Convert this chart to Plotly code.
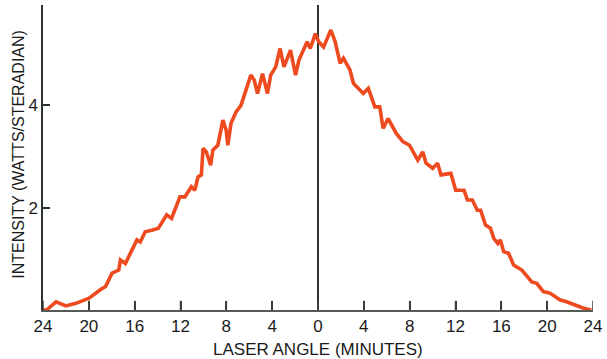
import plotly.graph_objects as go

# Laser angle in minutes (negative = left of centre), intensity in W/sr
angle = [-24.0, -23.7, -22.86, -22.0, -21.13, -19.98, -18.97, -18.54, -17.97, -17.39,
         -17.24, -16.81, -16.24, -15.80, -15.51, -15.08, -14.51, -13.93, -13.21, -12.78,
         -12.05, -11.62, -11.05, -10.75, -10.47, -10.18, -10.03, -9.75, -9.37, -9.17,
         -8.74, -8.30, -8.02, -7.87, -7.59, -7.15, -6.72, -6.29, -5.86, -5.56,
         -5.28, -4.84, -4.41, -4.13, -3.69, -3.31, -2.97, -2.40, -1.96, -1.67,
         -0.95, -0.67, -0.23, 0.06, 0.49, 1.12, 1.50, 1.93, 2.22, 2.79,
         3.09, 3.95, 4.39, 4.96, 5.39, 5.68, 6.12, 6.83, 7.41, 7.98,
         8.71, 9.14, 9.43, 10.01, 10.44, 10.73, 11.59, 12.02, 12.74, 13.04,
         13.47, 13.90, 14.19, 14.62, 15.05, 15.34, 15.70, 15.92, 16.20, 16.63,
         17.07, 17.79, 18.66, 19.09, 19.66, 20.24, 21.11, 21.69, 22.55, 23.12, 23.85]
intensity = [0.0, 0.0, 0.16, 0.08, 0.13, 0.23, 0.40, 0.46, 0.72, 0.78,
             0.98, 0.91, 1.17, 1.37, 1.33, 1.53, 1.56, 1.60, 1.86, 1.79,
             2.21, 2.21, 2.41, 2.34, 2.60, 2.64, 3.16, 3.09, 2.83, 3.13,
             3.22, 3.71, 3.52, 3.22, 3.65, 3.87, 4.00, 4.30, 4.59, 4.49,
             4.23, 4.62, 4.23, 4.59, 4.75, 5.11, 4.75, 5.08, 4.59, 4.88,
             5.24, 5.11, 5.40, 5.24, 5.14, 5.47, 5.24, 4.82, 4.92, 4.69,
             4.43, 4.23, 4.33, 3.97, 3.97, 3.55, 3.74, 3.45, 3.29, 3.22,
             2.93, 3.09, 2.87, 2.77, 2.87, 2.64, 2.67, 2.34, 2.34, 2.15,
             2.15, 1.95, 1.95, 1.66, 1.60, 1.40, 1.30, 1.37, 1.14, 1.11,
             0.88, 0.78, 0.55, 0.52, 0.36, 0.33, 0.20, 0.16, 0.08, 0.04, 0.0]

x_tickvals = [-24, -20, -16, -12, -8, -4, 0, 4, 8, 12, 16, 20, 24]
x_ticktext = ["24", "20", "16", "12", "8", "4", "0", "4", "8", "12", "16", "20", "24"]
y_tickvals = [2, 4]
y_ticktext = ["2", "4"]

axis_col = "#2c3430"
tick_col = "#3a3f3a"
font_fam = "Liberation Sans, Arial, sans-serif"

fig = go.Figure()
fig.add_trace(go.Scatter(x=angle, y=intensity, mode="lines",
                         line=dict(color="#ee4a20", width=3.6, shape="linear"),
                         hoverinfo="skip"))

# short upward tick marks at each x tick position (the zero line covers 0)
tick_shapes = [dict(type="line", xref="x", yref="paper", x0=v, x1=v, y0=0, y1=0.03,
                    line=dict(color=tick_col, width=1.5), layer="above")
               for v in x_tickvals if v != 0]

fig.update_layout(
    width=607, height=359,
    margin=dict(l=43, r=9, t=5, b=49),
    paper_bgcolor="white", plot_bgcolor="white",
    showlegend=False,
    font=dict(family=font_fam, color="#1a1a1a", size=17),
    xaxis=dict(range=[-24, 24], tickmode="array", tickvals=x_tickvals, ticktext=x_ticktext,
               ticks="inside", ticklen=9, tickcolor=tick_col, tickwidth=1.5,
               showline=True, linecolor="#555a55", linewidth=1.5,
               showgrid=False, zeroline=True, zerolinecolor=axis_col, zerolinewidth=2,
               ticklabeloverflow="allow"),
    yaxis=dict(range=[0, 5.96], tickmode="array", tickvals=y_tickvals, ticktext=y_ticktext,
               ticks="inside", ticklen=7, tickcolor=axis_col, tickwidth=1.5,
               showline=True, linecolor=axis_col, linewidth=1.5,
               showgrid=False, zeroline=False),
    shapes=tick_shapes,
    annotations=[
        dict(text="LASER ANGLE (MINUTES)", xref="paper", yref="paper",
             x=0.5, y=-0.128, xanchor="center", yanchor="middle", showarrow=False,
             font=dict(size=17, family=font_fam, color="#1a1a1a")),
        dict(text="INTENSITY (WATTS/STERADIAN)", xref="paper", yref="paper",
             x=-0.045, y=0.51, xanchor="center", yanchor="middle", showarrow=False,
             textangle=-90,
             font=dict(size=16, family=font_fam, color="#1a1a1a")),
    ],
)

fig.write_html("out.html", config={"displayModeBar": False},
               post_script="document.body.style.margin='0';document.body.style.overflow='hidden';")
